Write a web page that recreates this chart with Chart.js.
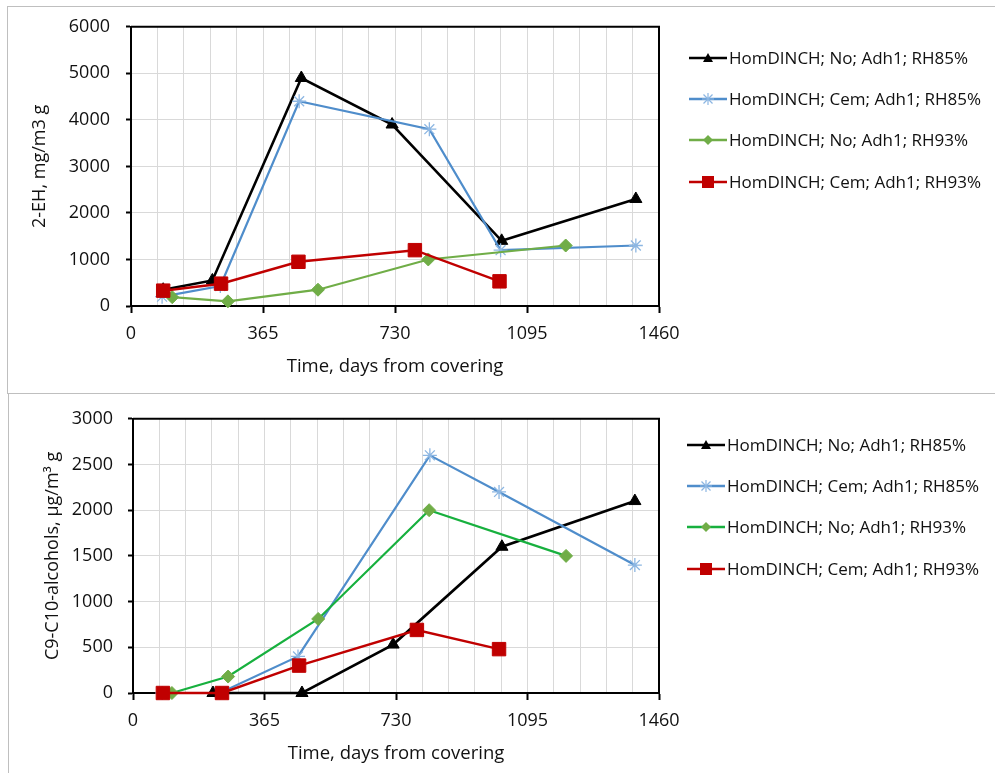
<!DOCTYPE html>
<html>
<head>
<meta charset="utf-8">
<script src="https://cdn.jsdelivr.net/npm/chart.js@4.4.1/dist/chart.umd.min.js"></script>
<style>
body { margin: 0; background: #fff; width: 995px; height: 773px; overflow: hidden; position: relative; font-family: 'Open Sans', sans-serif; }
.frame { position: absolute; border: 1px solid #bfbfbf; box-sizing: border-box; }
.box { position: absolute; left: 0; }
.legend-row { position: absolute; white-space: nowrap; height: 22px; line-height: 22px; font-size: 17px; color: #111; }
.legend-row svg { vertical-align: top; margin-right: 2px; }
</style>
</head>
<body>
<div class="frame" style="left:7px;top:6px;width:1000px;height:388px"></div>
<div class="frame" style="left:8px;top:393px;width:1000px;height:390px"></div>
<div class="box" style="top:0;width:700px;height:393px"><canvas id="ehChart"></canvas></div>
<div class="box" style="top:393px;width:700px;height:380px"><canvas id="alcChart"></canvas></div>
<div id="ehLegend"></div>
<div id="alcLegend"></div>
<script>
// series names (same in both charts)
const seriesNames = [
    'HomDINCH; No; Adh1; RH85%',
    'HomDINCH; Cem; Adh1; RH85%',
    'HomDINCH; No; Adh1; RH93%',
    'HomDINCH; Cem; Adh1; RH93%'
];

// x ticks, days from covering
const dayTicks = [0, 365, 730, 1095, 1460];

// upper chart: 2-EH, mg/m3 g
const ehNoRh85Days = [89, 225, 471, 722, 1025, 1396];
const ehNoRh85 = [350, 550, 4900, 3900, 1400, 2300];
const ehCemRh85Days = [86, 247, 465, 825, 1022, 1396];
const ehCemRh85 = [200, 430, 4400, 3800, 1200, 1300];
const ehNoRh93Days = [114, 268, 517, 822, 1202];
const ehNoRh93 = [190, 100, 350, 1000, 1300];
const ehCemRh93Days = [89, 249, 463, 785, 1019];
const ehCemRh93 = [330, 480, 950, 1200, 530];

// lower chart: C9-C10-alcohols, µg/m³ g
const alcNoRh85Days = [222, 469, 722, 1024, 1393];
const alcNoRh85 = [0, 0, 530, 1600, 2100];
const alcCemRh85Days = [81, 241, 458, 824, 1016, 1393];
const alcCemRh85 = [0, 0, 400, 2600, 2200, 1400];
const alcNoRh93Days = [108, 264, 514, 822, 1202];
const alcNoRh93 = [0, 180, 810, 2000, 1500];
const alcCemRh93Days = [83, 247, 461, 788, 1016];
const alcCemRh93 = [0, 0, 300, 690, 480];

Chart.defaults.font.family = "'Open Sans', sans-serif";
Chart.defaults.font.size = 18;
Chart.defaults.color = '#111';

const toPoints = (days, vals) => days.map((d, i) => ({ x: d, y: vals[i] }));

// line colour, marker colour, marker shape, marker radius
const styles = [
    { line: '#000000', mark: '#000000', shape: 'triangle', r: 7, bw: 1, width: 2.6 },
    { line: '#4f8dcb', mark: '#8cb6e2', shape: 'star', r: 7, bw: 1.3, width: 2.2 },
    { line: '#70ad47', mark: '#70ad47', shape: 'rectRot', r: 6.5, bw: 1, width: 2.2 },
    { line: '#c00000', mark: '#c00000', shape: 'rect', r: 9.5, bw: 1, width: 2.5 }
];

function makeDatasets(sets, greenLine) {
    return sets.map((pts, i) => {
        const s = styles[i];
        const lineColor = (i === 2 && greenLine) ? greenLine : s.line;
        return {
            label: seriesNames[i],
            data: pts,
            borderColor: lineColor,
            borderWidth: s.width,
            pointStyle: s.shape,
            pointRadius: s.r,
            pointBackgroundColor: s.mark,
            pointBorderColor: s.mark,
            pointBorderWidth: s.bw,
            fill: false,
            tension: 0,
            clip: false,
            order: 3 - i
        };
    });
}

// black frame round the plot area (top and right sides)
const plotBox = {
    id: 'plotBox',
    beforeDatasetsDraw(chart) {
        const a = chart.chartArea, c = chart.ctx;
        c.save();
        c.strokeStyle = '#000';
        c.lineWidth = 2;
        c.beginPath();
        c.moveTo(a.left, a.top);
        c.lineTo(a.right, a.top);
        c.lineTo(a.right, a.bottom);
        c.stroke();
        c.restore();
    }
};

function makeChart(id, datasets, cfg) {
    return new Chart(document.getElementById(id), {
        type: 'line',
        data: { datasets },
        plugins: [plotBox],
        options: {
            responsive: true,
            maintainAspectRatio: false,
            animation: false,
            layout: { padding: { left: 0, right: 41, top: cfg.padTop, bottom: 0 } },
            plugins: { legend: { display: false }, tooltip: { enabled: false } },
            scales: {
                x: {
                    type: 'linear',
                    min: dayTicks[0],
                    max: dayTicks[dayTicks.length - 1],
                    afterFit: s => { s.height = cfg.xHeight; },
                    ticks: {
                        stepSize: 73,
                        autoSkip: false,
                        maxRotation: 0,
                        padding: 10,
                        callback: v => dayTicks.includes(v) ? v : ''
                    },
                    grid: {
                        color: '#d9d9d9',
                        lineWidth: 1,
                        tickLength: 7,
                        tickWidth: 2,
                        tickColor: c => dayTicks.includes(c.tick.value) ? '#000' : 'rgba(0,0,0,0)'
                    },
                    border: { color: '#000', width: 2 },
                    title: {
                        display: true,
                        text: 'Time, days from covering',
                        padding: { top: 0, bottom: cfg.xTitlePad },
                        font: { size: 18.5 }
                    }
                },
                y: {
                    min: 0,
                    max: cfg.yMax,
                    afterFit: s => { s.width = cfg.yWidth; },
                    ticks: {
                        stepSize: 500,
                        padding: cfg.yTickPad,
                        callback: v => v % cfg.yLabelStep === 0 ? v : ''
                    },
                    grid: {
                        color: '#d9d9d9',
                        lineWidth: 1,
                        tickLength: 5,
                        tickWidth: 2,
                        tickColor: c => c.tick.value % cfg.yLabelStep === 0 ? '#000' : 'rgba(0,0,0,0)'
                    },
                    border: { color: '#000', width: 2 },
                    title: {
                        display: true,
                        text: cfg.yTitle,
                        padding: { top: cfg.yTitlePad, bottom: 0 },
                        font: { size: 18 }
                    }
                }
            }
        }
    });
}

makeChart('ehChart', makeDatasets([
    toPoints(ehNoRh85Days, ehNoRh85),
    toPoints(ehCemRh85Days, ehCemRh85),
    toPoints(ehNoRh93Days, ehNoRh93),
    toPoints(ehCemRh93Days, ehCemRh93)
]), { padTop: 26, xHeight: 87, xTitlePad: 15, yMax: 6000, yWidth: 131, yTickPad: 16, yLabelStep: 1000, yTitlePad: 29, yTitle: '2-EH, mg/m3 g' });

makeChart('alcChart', makeDatasets([
    toPoints(alcNoRh85Days, alcNoRh85),
    toPoints(alcCemRh85Days, alcCemRh85),
    toPoints(alcNoRh93Days, alcNoRh93),
    toPoints(alcCemRh93Days, alcCemRh93)
], '#17b03e'), { padTop: 21, xHeight: 80, xTitlePad: 8, yMax: 3000, yWidth: 133, yTickPad: 15, yLabelStep: 500, yTitlePad: 42, yTitle: 'C9-C10-alcohols, µg/m³ g' });

// legend: line sample with marker, then the series name
function markerSvg(s, lineColor) {
    let m = '';
    const cx = 19, cy = 11;
    if (s.shape === 'triangle') m = `<polygon points="${cx},${cy - 5} ${cx + 5},${cy + 4} ${cx - 5},${cy + 4}" fill="${s.mark}"/>`;
    if (s.shape === 'star') m = `<g stroke="${s.mark}" stroke-width="1.2"><line x1="${cx - 6}" y1="${cy}" x2="${cx + 6}" y2="${cy}"/><line x1="${cx}" y1="${cy - 6}" x2="${cx}" y2="${cy + 6}"/><line x1="${cx - 4.5}" y1="${cy - 4.5}" x2="${cx + 4.5}" y2="${cy + 4.5}"/><line x1="${cx - 4.5}" y1="${cy + 4.5}" x2="${cx + 4.5}" y2="${cy - 4.5}"/></g>`;
    if (s.shape === 'rectRot') m = `<polygon points="${cx},${cy - 5} ${cx + 5},${cy} ${cx},${cy + 5} ${cx - 5},${cy}" fill="${s.mark}"/>`;
    if (s.shape === 'rect') m = `<rect x="${cx - 6}" y="${cy - 6}" width="12" height="12" fill="${s.mark}"/>`;
    return `<svg width="38" height="22"><line x1="0" y1="${cy}" x2="38" y2="${cy}" stroke="${lineColor}" stroke-width="2.5"/>${m}</svg>`;
}

function buildLegend(id, left, rowTops, greenLine) {
    const el = document.getElementById(id);
    seriesNames.forEach((name, i) => {
        const s = styles[i];
        const lc = (i === 2 && greenLine) ? greenLine : s.line;
        const row = document.createElement('div');
        row.className = 'legend-row';
        row.style.left = left + 'px';
        row.style.top = rowTops[i] + 'px';
        row.innerHTML = markerSvg(s, lc) + '<span>' + name + '</span>';
        el.appendChild(row);
    });
}

buildLegend('ehLegend', 689, [47, 88, 129, 171]);
buildLegend('alcLegend', 687, [434, 475, 516, 558], '#17b03e');
</script>
</body>
</html>
